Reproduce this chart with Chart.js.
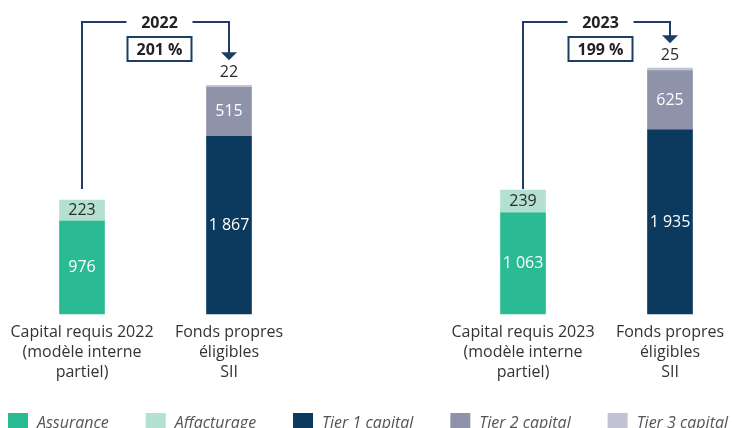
<!DOCTYPE html>
<html>
<head>
<meta charset="utf-8">
<script src="https://cdn.jsdelivr.net/npm/chart.js@4.4.0/dist/chart.umd.min.js"></script>
<style>
  html, body { margin: 0; padding: 0; background: #fff; overflow: hidden; }
</style>
</head>
<body>
<canvas id="chart" width="732" height="428"></canvas>
<script>
// === DATA ===
const categories = [
  ['Capital requis 2022', '(modèle interne', 'partiel)'],
  ['Fonds propres', 'éligibles', 'SII'],
  '',
  ['Capital requis 2023', '(modèle interne', 'partiel)'],
  ['Fonds propres', 'éligibles', 'SII']
];
const assurance   = [976, null, null, 1063, null];
const affacturage = [223, null, null, 239, null];
const tier1 = [null, 1867, null, null, 1935];
const tier2 = [null, 515, null, null, 625];
const tier3 = [null, 22, null, null, 25];

// solvency ratio brackets
const years  = ['2022', '2023'];
const ratios = ['201 %', '199 %'];
const bracketFrom = [0, 3];
const bracketTo   = [1, 4];

const FONT = '"Open Sans", sans-serif';
const NAVY_LINE = '#1d3d66';

const fmt = v => v >= 1000 ? Math.floor(v / 1000) + ' ' + String(v % 1000).padStart(3, '0') : String(v);

// values written inside / above the bar segments
const valueLabels = {
  id: 'valueLabels',
  afterDatasetsDraw(chart) {
    const ctx = chart.ctx;
    ctx.save();
    ctx.font = '16px ' + FONT;
    ctx.textAlign = 'center';
    ctx.textBaseline = 'middle';
    chart.data.datasets.forEach((ds, di) => {
      const meta = chart.getDatasetMeta(di);
      meta.data.forEach((bar, i) => {
        const v = ds.data[i];
        if (v == null) return;
        if (ds.labelOutside) {
          ctx.fillStyle = '#2b2b2b';
          ctx.fillText(fmt(v), bar.x, bar.y - 13);
        } else {
          ctx.fillStyle = ds.labelColor;
          ctx.fillText(fmt(v), bar.x, (bar.y + bar.base) / 2);
        }
      });
    });
    ctx.restore();
  }
};

// year bracket with arrow + ratio box
const brackets = {
  id: 'brackets',
  afterDraw(chart) {
    const { ctx, scales: { x, y }, chartArea } = chart;
    const topY = chartArea.top;
    ctx.save();
    years.forEach((yr, k) => {
      const x1 = x.getPixelForValue(bracketFrom[k]);
      const x2 = x.getPixelForValue(bracketTo[k]);
      const j = bracketTo[k];
      const total = (tier1[j] || 0) + (tier2[j] || 0) + (tier3[j] || 0);
      const tipY = y.getPixelForValue(total) - 25;
      const leftEnd = chartArea.bottom - 125;
      const mid = (x1 + x2) / 2 + 4;

      ctx.strokeStyle = NAVY_LINE;
      ctx.lineWidth = 2;
      ctx.beginPath();
      ctx.moveTo(x1, leftEnd);
      ctx.lineTo(x1, topY);
      ctx.lineTo(mid - 33, topY);
      ctx.stroke();
      ctx.beginPath();
      ctx.moveTo(mid + 33, topY);
      ctx.lineTo(x2, topY);
      ctx.lineTo(x2, tipY - 7);
      ctx.stroke();

      ctx.fillStyle = NAVY_LINE;
      ctx.beginPath();
      ctx.moveTo(x2 - 8, tipY - 8);
      ctx.lineTo(x2 + 8, tipY - 8);
      ctx.lineTo(x2, tipY);
      ctx.closePath();
      ctx.fill();

      ctx.font = 'bold 16px ' + FONT;
      ctx.textAlign = 'center';
      ctx.textBaseline = 'middle';
      ctx.fillStyle = '#222';
      ctx.fillText(yr, mid, topY + 1);

      ctx.strokeRect(mid - 32, topY + 15, 64, 24);
      ctx.fillText(ratios[k], mid, topY + 28);
    });
    ctx.restore();
  }
};

// legend spread along the bottom edge (partly cut off, like the source)
const bottomLegend = {
  id: 'bottomLegend',
  afterDraw(chart) {
    const ctx = chart.ctx;
    const items = chart.data.datasets;
    const left = 8, right = 728, boxTop = 413, box = 20, gapText = 9;
    ctx.save();
    ctx.font = 'italic 16px ' + FONT;
    const widths = items.map(ds => box + gapText + ctx.measureText(ds.label).width);
    const gap = (right - left - widths.reduce((a, b) => a + b, 0)) / (items.length - 1);
    let xPos = left;
    items.forEach((ds, i) => {
      ctx.fillStyle = ds.backgroundColor;
      ctx.fillRect(xPos, boxTop, box, box);
      ctx.fillStyle = '#555';
      ctx.textBaseline = 'middle';
      ctx.fillText(ds.label, xPos + box + gapText, boxTop + 10);
      xPos += widths[i] + gap;
    });
    ctx.restore();
  }
};

const ctx = document.getElementById('chart').getContext('2d');
new Chart(ctx, {
  type: 'bar',
  data: {
    labels: categories,
    datasets: [
      { label: 'Assurance', data: assurance, backgroundColor: '#2abb94', labelColor: '#fff' },
      { label: 'Affacturage', data: affacturage, backgroundColor: '#b3e0d0', labelColor: '#2b2b2b' },
      { label: 'Tier 1 capital', data: tier1, backgroundColor: '#0c3a5e', labelColor: '#fff' },
      { label: 'Tier 2 capital', data: tier2, backgroundColor: '#8e93aa', labelColor: '#fff' },
      { label: 'Tier 3 capital', data: tier3, backgroundColor: '#c1c3d3', labelOutside: true }
    ]
  },
  options: {
    responsive: false,
    animation: false,
    devicePixelRatio: 1,
    layout: { padding: { top: 22, left: 82, right: 62, bottom: 46 } },
    datasets: { bar: { barThickness: 45, clip: false } },
    scales: {
      x: {
        stacked: true,
        offset: false,
        grid: { display: false },
        border: { display: false },
        ticks: { color: '#333', font: { family: FONT, size: 16, lineHeight: 1.25 }, padding: 0, maxRotation: 0, autoSkip: false }
      },
      y: { stacked: true, display: false, min: 0, max: 3070 }
    },
    plugins: {
      legend: { display: false },
      tooltip: { enabled: false }
    }
  },
  plugins: [valueLabels, brackets, bottomLegend]
});
</script>
</body>
</html>
